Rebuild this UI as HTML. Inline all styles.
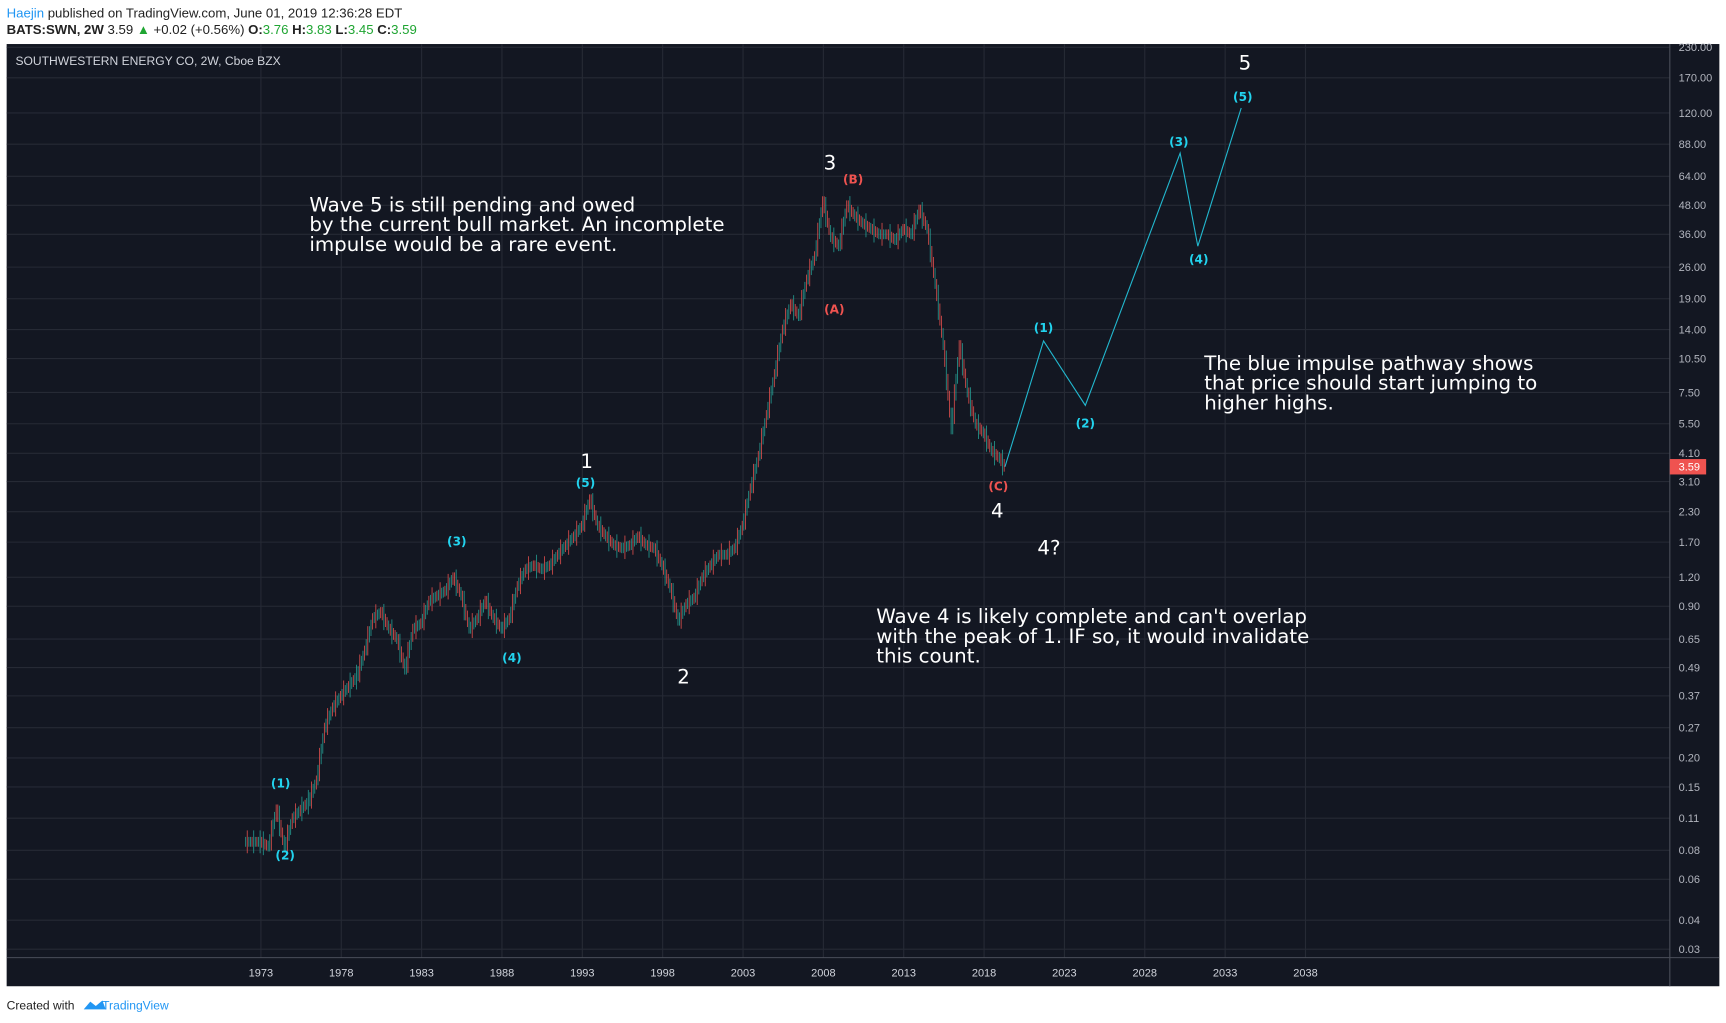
<!DOCTYPE html>
<html><head><meta charset="utf-8"><style>
html,body{margin:0;padding:0;background:#fff;width:1726px;height:1023px;overflow:hidden}
svg{display:block}
</style></head><body>
<svg id="chart" width="1726" height="1023" viewBox="0 0 1568 929.4" xmlns="http://www.w3.org/2000/svg" font-family="'Liberation Sans', sans-serif">
<text x="6" y="16" font-size="12" fill="#222"><tspan fill="#2196f3">Haejin</tspan> published on TradingView.com, June 01, 2019 12:36:28 EDT</text>
<text x="6" y="31" font-size="12" fill="#222"><tspan font-weight="bold">BATS:SWN, 2W</tspan>  3.59 <tspan fill="#1fa532">▲</tspan> +0.02 (+0.56%) <tspan font-weight="bold">O:</tspan><tspan fill="#1fa532">3.76</tspan> <tspan font-weight="bold">H:</tspan><tspan fill="#1fa532">3.83</tspan> <tspan font-weight="bold">L:</tspan><tspan fill="#1fa532">3.45</tspan> <tspan font-weight="bold">C:</tspan><tspan fill="#1fa532">3.59</tspan></text>
<rect x="6" y="40" width="1556" height="856" fill="#131722"/>
<g id="grid"></g>
<line x1="1517" y1="40" x2="1517" y2="896" stroke="#4a4e59"/>
<line x1="6" y1="870" x2="1562" y2="870" stroke="#4a4e59"/>
<g id="candles"></g>
<g id="proj"></g>
<g id="axes"></g>
<text x="14" y="59" font-size="11" fill="#d1d4dc">SOUTHWESTERN ENERGY CO, 2W, Cboe BZX</text>
<g font-family="'DejaVu Sans', sans-serif" font-size="18" fill="#fff">
<text><tspan x="281" y="192">Wave 5 is still pending and owed</tspan><tspan x="281" y="210">by the current bull market. An incomplete</tspan><tspan x="281" y="228">impulse would be a rare event.</tspan></text>
<text><tspan x="1094" y="336">The blue impulse pathway shows</tspan><tspan x="1094" y="354">that price should start jumping to</tspan><tspan x="1094" y="372">higher highs.</tspan></text>
<text><tspan x="796" y="566">Wave 4 is likely complete and can't overlap</tspan><tspan x="796" y="584">with the peak of 1. IF so, it would invalidate</tspan><tspan x="796" y="602">this count.</tspan></text>
</g>
<g id="labels" font-family="'DejaVu Sans', sans-serif" text-anchor="middle" dominant-baseline="central"></g>
<text x="6" y="917" font-size="11" fill="#222">Created with <tspan fill="#2196f3" dx="22">TradingView</tspan></text>
<path d="M76 917 l6 -7 l5 4 l6 -5 l3 8 z" fill="#2196f3"/>
</svg>
<script>
const years=[1972,1973,1973.5,1974,1974.5,1975,1976,1976.5,1977,1977.5,1978,1979,1979.5,1980,1980.5,1981,1981.5,1982,1982.5,1983,1983.5,1984,1984.5,1985,1985.5,1986,1986.5,1987,1987.5,1988,1988.5,1989,1989.5,1990,1990.5,1991,1991.5,1992,1992.5,1993,1993.5,1994,1994.5,1995,1995.5,1996,1996.5,1997,1997.5,1998,1998.5,1999,1999.5,2000,2000.5,2001,2001.5,2002,2002.5,2003,2003.5,2004,2004.5,2005,2005.5,2006,2006.5,2007,2007.5,2008,2008.5,2009,2009.5,2010,2010.5,2011,2011.5,2012,2012.5,2013,2013.5,2014,2014.5,2015,2015.5,2016,2016.5,2017,2017.5,2018,2018.5,2019,2019.3];
const closes=[0.087,0.087,0.083,0.12,0.082,0.11,0.13,0.16,0.27,0.33,0.37,0.45,0.58,0.80,0.85,0.72,0.65,0.48,0.72,0.76,0.95,1.0,1.05,1.2,1.0,0.72,0.8,0.95,0.8,0.72,0.8,1.1,1.3,1.35,1.3,1.35,1.5,1.65,1.8,2.0,2.6,2.0,1.8,1.65,1.6,1.65,1.8,1.65,1.6,1.35,1.08,0.78,0.92,0.98,1.2,1.35,1.5,1.5,1.6,2.0,2.9,4.0,6.0,9.0,14,18,16,23,29,50,35,32,48,43,40,38,36,36,34,38,36,46,38,22,12,5.2,12,7.5,5.5,5.0,4.2,3.9,3.59];
const projYears=[2019.3,2021.7,2024.3,2030.2,2031.3,2034.0];
const projPrices=[3.59,12.5,6.6,80.5,32,126];
const priceTicks=[230,170,120,88,64,48,36,26,19,14,10.5,7.5,5.5,4.1,3.1,2.3,1.7,1.2,0.9,0.65,0.49,0.37,0.27,0.2,0.15,0.11,0.08,0.06,0.04,0.03];
const yearTicks=[1973,1978,1983,1988,1993,1998,2003,2008,2013,2018,2023,2028,2033,2038];
const waveLabels=[["1",1993.27,3.79,"#fff",18],["2",1999.3,0.446,"#fff",18],["3",2008.41,73.2,"#fff",18],["4",2018.82,2.32,"#fff",18],["4?",2022.04,1.60,"#fff",18],["5",2034.23,197,"#fff",18],
["(1)",1974.23,0.155,"#22d3ee",11],["(2)",1974.51,0.076,"#22d3ee",11],["(3)",1985.19,1.71,"#22d3ee",11],["(4)",1988.62,0.538,"#22d3ee",11],["(5)",1993.2,3.05,"#22d3ee",11],
["(1)",2021.7,14.2,"#22d3ee",11],["(2)",2024.3,5.5,"#22d3ee",11],["(3)",2030.12,89.9,"#22d3ee",11],["(4)",2031.36,28,"#22d3ee",11],["(5)",2034.1,140.8,"#22d3ee",11],
["(A)",2008.68,17.1,"#ef5350",11],["(B)",2009.85,62.1,"#ef5350",11],["(C)",2018.89,2.95,"#ef5350",11]];
const NS="http://www.w3.org/2000/svg";
function x(yr){return 237+(yr-1973)*14.6;}
function y(p){return 43+91.6*Math.log(230/p);}
function mk(tag,attrs,parent){const e=document.createElementNS(NS,tag);for(const k in attrs)e.setAttribute(k,attrs[k]);parent.appendChild(e);return e;}
const grid=document.getElementById('grid'),axes=document.getElementById('axes');
priceTicks.forEach(p=>{
 const l=mk('line',{x1:6,x2:1517,y1:y(p),y2:y(p),stroke:'#262a35'},grid);
 
 
 const t=mk('text',{x:1525,y:y(p)+3.5,'font-size':10,fill:'#b2b5be'},axes);
 t.textContent=p.toFixed(2);
 
 
});
yearTicks.forEach(yr=>{
 const l=mk('line',{x1:x(yr),x2:x(yr),y1:40,y2:870,stroke:'#262a35'},grid);
 
 
 const t=mk('text',{x:x(yr),y:887,'font-size':10,fill:'#d1d4dc','text-anchor':'middle'},axes);
 t.textContent=yr;
 
 
});
const last=closes[closes.length-1];
const pr=mk('rect',{x:1517,y:y(last)-7,width:33,height:14,fill:'#ef5350'},axes);


const pt=mk('text',{x:1525,y:y(last)+3.5,'font-size':10,fill:'#fff'},axes);
pt.textContent=last.toFixed(2);


const cg=document.getElementById('candles');
for(let i=1;i<closes.length;i++){
 const o=closes[i-1],c=closes[i],up=c>=o;
 const x0=x(years[i-1]),x1=x(years[i]),n=Math.max(2,Math.round((x1-x0)/1.5));
 for(let k=0;k<n;k++){
  const f0=k/n,f1=(k+1)/n;
  const a=o*Math.pow(c/o,f0),b=o*Math.pow(c/o,f1);
  const sw=(k%4==1)?1.12:1.05;
  const hi=Math.max(a,b)*sw,lo=Math.min(a,b)/sw;
  const xx=x0+(x1-x0)*(k+0.5)/n;
  const col=((k%3==1)!==up)?'#26a69a':'#ef5350';
  const w=mk('line',{x1:xx,x2:xx,y1:y(hi),y2:y(lo),stroke:col,'stroke-width':0.8,opacity:0.85},cg);
  
  
 }
}
const pg=document.getElementById('proj');
const pts=projYears.map((yr,i)=>x(yr)+','+y(projPrices[i])).join(' ');
const pl=mk('polyline',{points:pts,fill:'none',stroke:'#22b8cf','stroke-width':1},pg);


const lg=document.getElementById('labels');
waveLabels.forEach(w=>{
 const t=mk('text',{x:x(w[1]),y:y(w[2]),fill:w[3],'font-size':w[4],'font-weight':w[4]<12?'bold':'normal'},lg);
 t.textContent=w[0];
 
 
});
</script>
</body></html>
